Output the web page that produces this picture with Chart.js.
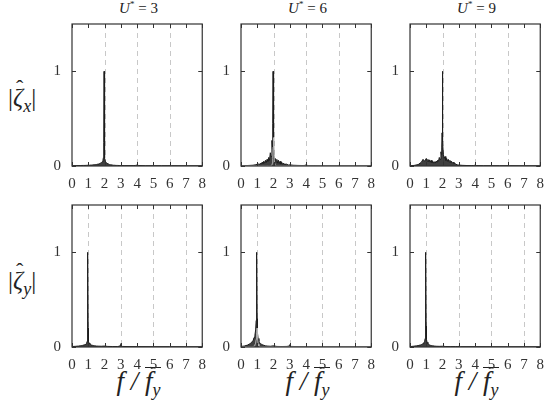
<!DOCTYPE html>
<html>
<head>
<meta charset="utf-8">
<script src="https://cdn.jsdelivr.net/npm/chart.js@4.4.1/dist/chart.umd.min.js"></script>
<style>
  body { margin: 0; background: #fff; width: 552px; height: 403px; position: relative; overflow: hidden; }
  canvas { position: absolute; }
  .txt { position: absolute; font-family: 'Liberation Serif', 'Times New Roman', 'DejaVu Serif', serif; color: #222; white-space: nowrap; }
  .title { font-size: 15px; text-align: center; width: 133px; top: -1px; }
  .title sup { font-size: 9px; }
  .ylab { font-size: 25px; left: 8px; }
  .ylab sub { font-size: 18px; }
  .hat { position: relative; }
  .hat span { position: absolute; left: 3px; top: -9px; font-style: normal; font-size: 22px; }
  .xlab { font-size: 27px; font-style: italic; text-align: center; width: 133px; top: 366px; }
  .bar { display: inline-block; border-top: 1.5px solid #222; line-height: 26px; padding-top: 0px; }
  .bar sub { font-size: 18px; }
</style>
</head>
<body>
<div class="txt title" style="left:72px"><i>U</i><sup>*</sup> = 3</div>
<div class="txt title" style="left:241px"><i>U</i><sup>*</sup> = 6</div>
<div class="txt title" style="left:410px"><i>U</i><sup>*</sup> = 9</div>
<div class="txt ylab" style="top:84px">|<i class="hat">ζ<span>ˆ</span></i><sub><i>x</i></sub>|</div>
<div class="txt ylab" style="top:267px">|<i class="hat">ζ<span>ˆ</span></i><sub><i>y</i></sub>|</div>
<div class="txt xlab" style="left:72px">f / <span class="bar">f<sub>y</sub></span></div>
<div class="txt xlab" style="left:241px">f / <span class="bar">f<sub>y</sub></span></div>
<div class="txt xlab" style="left:410px">f / <span class="bar">f<sub>y</sub></span></div>

<canvas id="c0" width="175" height="192" style="left:40px;top:4px"></canvas>
<canvas id="c1" width="175" height="192" style="left:209px;top:4px"></canvas>
<canvas id="c2" width="175" height="192" style="left:378px;top:4px"></canvas>
<canvas id="c3" width="175" height="192" style="left:40px;top:185px"></canvas>
<canvas id="c4" width="175" height="192" style="left:209px;top:185px"></canvas>
<canvas id="c5" width="175" height="192" style="left:378px;top:185px"></canvas>

<script>
const xTicks = [0, 1, 2, 3, 4, 5, 6, 7, 8];
const yTicks = [0, 1];
const gridTop = [2, 4, 6];
const gridBottom = [1, 3, 5, 7];

// frequency samples f / mean(f_y)
const freqTop = [0, 0.25, 0.5, 0.7, 0.8, 0.9, 1.0, 1.05, 1.1, 1.15,
  1.2, 1.25, 1.3, 1.35, 1.4, 1.45, 1.5, 1.55, 1.6, 1.65,
  1.7, 1.75, 1.8, 1.85, 1.9, 1.93, 1.95, 1.97, 1.99, 2.01,
  2.05, 2.1, 2.15, 2.2, 2.25, 2.3, 2.35, 2.4, 2.45, 2.5,
  2.55, 2.6, 2.65, 2.7, 2.75, 2.8, 2.9, 3.0, 3.2, 3.5,
  3.8, 3.9, 3.95, 4.0, 4.1, 4.5, 5.0, 5.5, 5.9, 6.0,
  6.1, 7.0, 8.0];
const freqBottom = [0, 0.2, 0.4, 0.5, 0.6, 0.65, 0.7, 0.75, 0.8, 0.85,
  0.9, 0.93, 0.95, 0.97, 0.99, 1.01, 1.05, 1.1, 1.15, 1.2,
  1.25, 1.3, 1.4, 1.5, 1.6, 1.8, 2.0, 2.2, 2.5, 2.8,
  2.9, 2.95, 3.0, 3.05, 3.1, 3.5, 4.0, 5.0, 6.0, 7.0,
  8.0];

// |zeta_x| spectra
const zetaX3 = [0.003, 0.004, 0.005, 0.006, 0.006, 0.007, 0.008, 0.008, 0.009, 0.010,
  0.010, 0.011, 0.012, 0.012, 0.014, 0.015, 0.016, 0.018, 0.020, 0.022,
  0.026, 0.030, 0.036, 0.045, 0.060, 0.090, 0.250, 1.0, 0.200, 0.080,
  0.050, 0.035, 0.028, 0.022, 0.018, 0.015, 0.013, 0.012, 0.010, 0.009,
  0.008, 0.008, 0.007, 0.007, 0.006, 0.006, 0.005, 0.005, 0.004, 0.004,
  0.004, 0.006, 0.008, 0.012, 0.005, 0.003, 0.003, 0.003, 0.003, 0.005,
  0.003, 0.002, 0.002];
const zetaX6 = [0.003, 0.004, 0.006, 0.008, 0.010, 0.014, 0.018, 0.012, 0.025, 0.015,
  0.030, 0.020, 0.040, 0.025, 0.050, 0.030, 0.060, 0.035, 0.070, 0.050,
  0.090, 0.060, 0.140, 0.100, 0.270, 0.180, 0.450, 1.0, 0.350, 0.120,
  0.060, 0.080, 0.040, 0.070, 0.030, 0.060, 0.025, 0.050, 0.020, 0.040,
  0.018, 0.030, 0.015, 0.025, 0.012, 0.020, 0.010, 0.012, 0.008, 0.006,
  0.005, 0.006, 0.008, 0.015, 0.005, 0.004, 0.003, 0.003, 0.003, 0.006,
  0.003, 0.002, 0.002];
const zetaX6Grey = [0.002, 0.002, 0.002, 0.002, 0.002, 0.002, 0.002, 0.002, 0.002, 0.002,
  0.002, 0.002, 0.002, 0.002, 0.002, 0.002, 0.002, 0.002, 0.002, 0.002,
  0.002, 0.002, 0.003, 0.005, 0.010, 0.030, 0.080, 0.200, 0.300, 0.220,
  0.040, 0.008, 0.004, 0.003, 0.002, 0.002, 0.002, 0.002, 0.002, 0.002,
  0.002, 0.002, 0.002, 0.002, 0.002, 0.002, 0.002, 0.002, 0.002, 0.002,
  0.002, 0.002, 0.002, 0.002, 0.002, 0.002, 0.002, 0.002, 0.002, 0.002,
  0.002, 0.002, 0.002];
const zetaX9 = [0.003, 0.006, 0.015, 0.040, 0.070, 0.050, 0.080, 0.050, 0.070, 0.045,
  0.065, 0.040, 0.060, 0.035, 0.050, 0.030, 0.045, 0.030, 0.050, 0.040,
  0.060, 0.050, 0.090, 0.070, 0.150, 0.120, 0.200, 0.350, 1.0, 0.250,
  0.120, 0.080, 0.100, 0.060, 0.080, 0.050, 0.070, 0.040, 0.060, 0.035,
  0.050, 0.030, 0.040, 0.025, 0.030, 0.020, 0.012, 0.010, 0.007, 0.005,
  0.004, 0.005, 0.006, 0.012, 0.004, 0.003, 0.003, 0.003, 0.003, 0.005,
  0.003, 0.002, 0.002];

// |zeta_y| spectra
const zetaY3 = [0.005, 0.007, 0.010, 0.012, 0.015, 0.017, 0.020, 0.022, 0.026, 0.030,
  0.040, 0.060, 0.150, 1.0, 0.200, 0.060, 0.040, 0.030, 0.025, 0.020,
  0.018, 0.015, 0.012, 0.010, 0.009, 0.008, 0.010, 0.006, 0.005, 0.005,
  0.008, 0.015, 0.035, 0.012, 0.006, 0.004, 0.004, 0.003, 0.003, 0.002,
  0.002];
const zetaY6 = [0.006, 0.010, 0.020, 0.030, 0.040, 0.050, 0.060, 0.070, 0.100, 0.120,
  0.180, 0.280, 0.400, 1.0, 0.300, 0.150, 0.090, 0.060, 0.045, 0.035,
  0.030, 0.025, 0.018, 0.012, 0.010, 0.008, 0.012, 0.006, 0.005, 0.006,
  0.008, 0.012, 0.025, 0.010, 0.006, 0.004, 0.005, 0.003, 0.003, 0.002,
  0.002];
const zetaY6Grey = [0.002, 0.002, 0.002, 0.002, 0.002, 0.002, 0.003, 0.005, 0.010, 0.020,
  0.040, 0.080, 0.120, 0.150, 0.200, 0.120, 0.030, 0.010, 0.005, 0.003,
  0.002, 0.002, 0.002, 0.002, 0.002, 0.002, 0.002, 0.002, 0.002, 0.002,
  0.002, 0.002, 0.002, 0.002, 0.002, 0.002, 0.002, 0.002, 0.002, 0.002,
  0.002];
const zetaY9 = [0.004, 0.008, 0.012, 0.015, 0.020, 0.022, 0.026, 0.030, 0.036, 0.045,
  0.060, 0.090, 0.200, 1.0, 0.220, 0.080, 0.050, 0.035, 0.028, 0.022,
  0.018, 0.015, 0.012, 0.010, 0.008, 0.007, 0.008, 0.005, 0.004, 0.004,
  0.004, 0.005, 0.008, 0.004, 0.003, 0.003, 0.003, 0.002, 0.002, 0.002,
  0.002];

const panels = [
  { id: 'c0', freq: freqTop, black: zetaX3, grey: null, grid: gridTop },
  { id: 'c1', freq: freqTop, black: zetaX6, grey: zetaX6Grey, grid: gridTop },
  { id: 'c2', freq: freqTop, black: zetaX9, grey: null, grid: gridTop },
  { id: 'c3', freq: freqBottom, black: zetaY3, grey: null, grid: gridBottom },
  { id: 'c4', freq: freqBottom, black: zetaY6, grey: zetaY6Grey, grid: gridBottom },
  { id: 'c5', freq: freqBottom, black: zetaY9, grey: null, grid: gridBottom },
];

const toPoints = (freq, vals) => freq.map((f, i) => ({ x: f, y: vals[i] }));

// dashed grid behind the data, frame and inward ticks on top
const framePlugin = {
  id: 'frame',
  beforeDatasetsDraw(chart, args, opts) {
    const { ctx, chartArea: a, scales } = chart;
    ctx.save();
    ctx.strokeStyle = '#c8c8c8';
    ctx.lineWidth = 1;
    ctx.setLineDash([5, 4]);
    opts.grid.forEach((v) => {
      const px = Math.round(scales.x.getPixelForValue(v)) + 0.5;
      ctx.beginPath();
      ctx.moveTo(px, a.top);
      ctx.lineTo(px, a.bottom);
      ctx.stroke();
    });
    ctx.restore();
  },
  afterDraw(chart) {
    const { ctx, chartArea: a, scales } = chart;
    ctx.save();
    ctx.strokeStyle = '#333';
    ctx.lineWidth = 1.2;
    ctx.strokeRect(a.left, a.top, a.right - a.left, a.bottom - a.top);
    ctx.lineWidth = 1;
    xTicks.forEach((v) => {
      const px = Math.round(scales.x.getPixelForValue(v)) + 0.5;
      ctx.beginPath();
      ctx.moveTo(px, a.top);
      ctx.lineTo(px, a.top + 4);
      ctx.moveTo(px, a.bottom);
      ctx.lineTo(px, a.bottom - 4);
      ctx.stroke();
    });
    yTicks.forEach((v) => {
      const py = Math.round(scales.y.getPixelForValue(v)) + 0.5;
      ctx.beginPath();
      ctx.moveTo(a.left, py);
      ctx.lineTo(a.left + 4, py);
      ctx.moveTo(a.right, py);
      ctx.lineTo(a.right - 4, py);
      ctx.stroke();
    });
    ctx.restore();
  },
};

const tickFont = { family: "'Liberation Serif', 'Times New Roman', 'DejaVu Serif', serif", size: 15 };

panels.forEach((p) => {
  const datasets = [];
  if (p.grey) {
    datasets.push({
      data: toPoints(p.freq, p.grey),
      borderColor: '#b4b4b4',
      borderWidth: 1,
      pointRadius: 0,
      fill: false,
    });
  }
  datasets.push({
    data: toPoints(p.freq, p.black),
    borderColor: '#1c1c1c',
    backgroundColor: 'rgba(30,30,30,0.85)',
    borderWidth: 1,
    pointRadius: 0,
    fill: 'origin',
  });

  new Chart(document.getElementById(p.id), {
    type: 'line',
    data: { datasets },
    plugins: [framePlugin],
    options: {
      responsive: false,
      animation: false,
      devicePixelRatio: 1,
      layout: { padding: { top: 8, right: 10, left: 0, bottom: 0 } },
      plugins: { legend: { display: false }, tooltip: { enabled: false }, frame: { grid: p.grid } },
      scales: {
        x: {
          type: 'linear',
          min: 0,
          max: 8,
          grid: { display: false, drawTicks: false },
          border: { display: false },
          afterFit: (s) => { s.height = 30; },
          afterBuildTicks: (s) => { s.ticks = xTicks.map((v) => ({ value: v })); },
          ticks: { font: tickFont, color: '#333', padding: 9, maxRotation: 0, autoSkip: false },
        },
        y: {
          min: 0,
          max: 1.5,
          grid: { display: false, drawTicks: false },
          border: { display: false },
          afterFit: (s) => { s.width = 32; },
          afterBuildTicks: (s) => { s.ticks = yTicks.map((v) => ({ value: v })); },
          ticks: { font: tickFont, color: '#333', padding: 11 },
        },
      },
    },
  });
});
</script>
</body>
</html>
